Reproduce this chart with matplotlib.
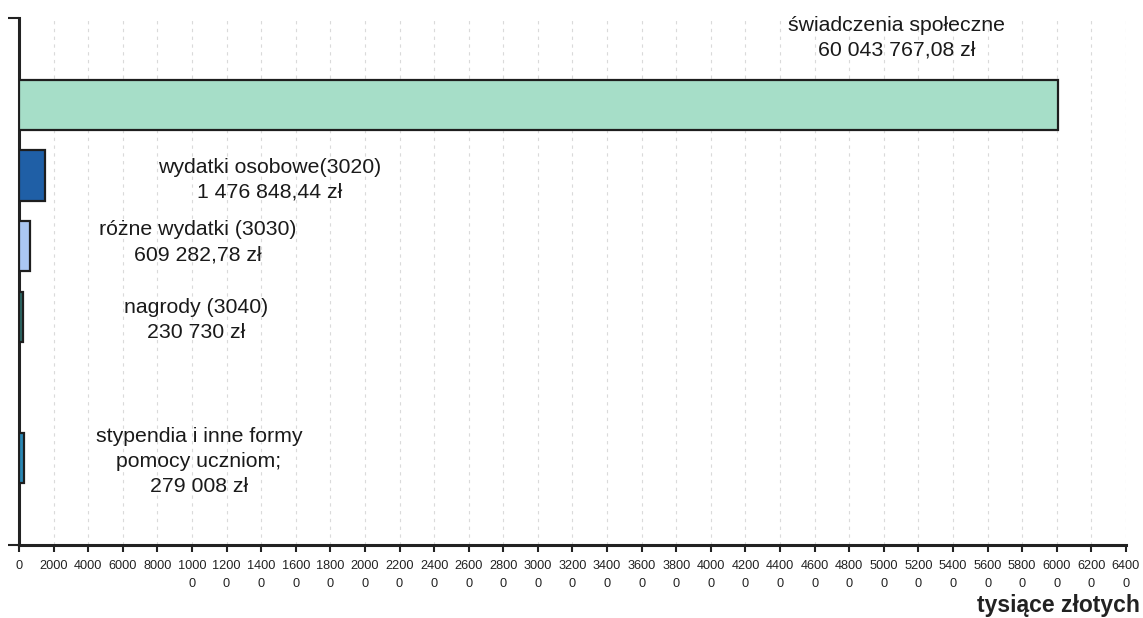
import numpy as np
import matplotlib
matplotlib.use("Agg")
import matplotlib.pyplot as plt

plt.rcParams['font.family'] = ['Liberation Sans', 'DejaVu Sans']

# wydatki w tysiącach złotych (kolejność od góry)
categories = ['świadczenia społeczne', 'wydatki osobowe(3020)', 'różne wydatki (3030)',
              'nagrody (3040)', '', 'stypendia i inne formy\npomocy uczniom;']
values = [60043.767, 1476.848, 609.283, 230.730, 0, 279.008]
amounts = ['60 043 767,08 zł', '1 476 848,44 zł', '609 282,78 zł', '230 730 zł', '', '279 008 zł']
colors = ['#a6dec8', '#1f5fa6', '#abc7f2', '#2d6a66', '#ffffff', '#2a88b5']

xticks = np.arange(0, 64001, 2000)
# etykiety opisów: (x w tys. zł, przesunięcie w pionie w kategoriach)
label_x = [50750, 14500, 10350, 10230, 0, 10400]
label_dy = [-0.95, 0.06, -0.05, 0.04, 0, 0.05]

fig = plt.figure(figsize=(11.43, 6.18), dpi=100)
ax = fig.add_axes([0.0166, 0.118, 0.9685, 0.853])

pos = np.arange(len(categories))
for p, v, c in zip(pos, values, colors):
    if v > 0:
        ax.barh(p, v, height=0.71, color=c, edgecolor='#1e1e1e', linewidth=1.6, zorder=3)

for p, name, amt, lx, dy in zip(pos, categories, amounts, label_x, label_dy):
    if name:
        ax.text(lx, p + dy, name + '\n' + amt, ha='center', va='center',
                multialignment='center', fontsize=15.3, color='#1a1a1a', linespacing=1.42, zorder=4)

ax.set_xlim(0, 64000)
ax.set_ylim(len(categories) - 1 + 1.23, -1.23)

def fmt(v):
    s = str(int(v))
    return s if len(s) <= 4 else s[:4] + '\n' + s[4:]

ax.set_xticks(xticks)
ax.set_xticklabels([fmt(v) for v in xticks], fontsize=9.2, color='#222222',
                   multialignment='center', linespacing=1.6)
ax.set_yticks([-1.23, len(categories) - 1 + 1.23])
ax.set_yticklabels([])

ax.tick_params(axis='x', direction='out', length=5, width=1.5, color='#222222', pad=6)
ax.tick_params(axis='y', direction='out', length=8, width=1.5, color='#222222')

for s in ['top', 'right']:
    ax.spines[s].set_visible(False)
for s in ['left', 'bottom']:
    ax.spines[s].set_linewidth(2.2)
    ax.spines[s].set_color('#222222')

ax.grid(axis='x', color='#dadada', linestyle=(0, (3, 4)), linewidth=0.8, zorder=0)
ax.set_axisbelow(True)

fig.text(0.9975, 0.0097, 'tysiące złotych', ha='right', va='baseline',
         fontsize=16.5, fontweight='bold', color='#222222')

fig.savefig('out.png', dpi=100, facecolor='white')
